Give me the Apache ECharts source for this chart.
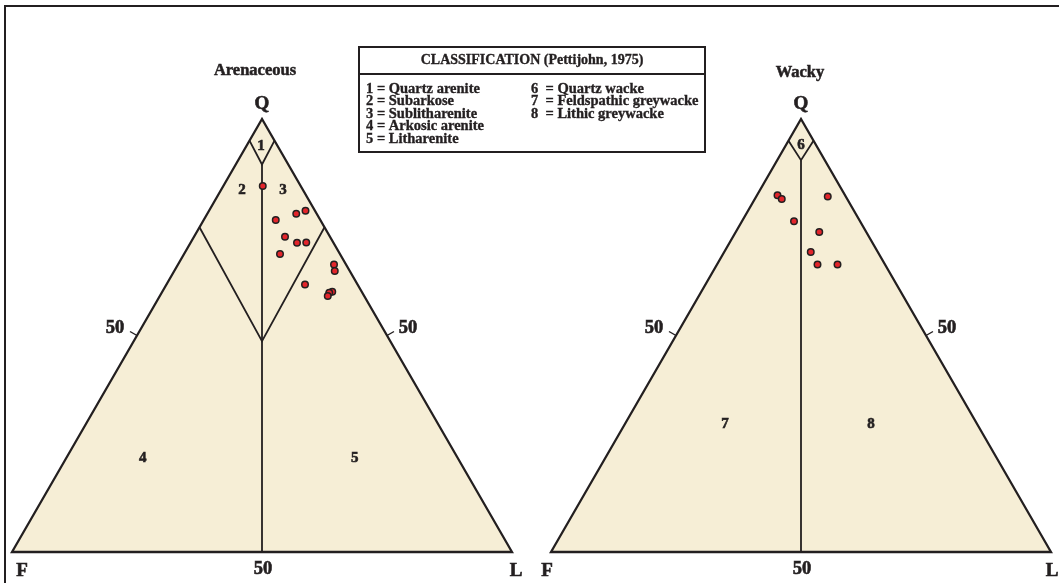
<!DOCTYPE html>
<html><head><meta charset="utf-8">
<script src="https://cdn.jsdelivr.net/npm/echarts@6/dist/echarts.min.js"></script>
<style>html,body{margin:0;padding:0;background:#fff}#c{width:1059px;height:583px}</style>
</head><body><div id="c"></div>
<script>
// ---- data (ternary %: Q, F, L) ----
const arenQ = [84.5,78.8,78.1,76.7,72.8,71.4,71.5,68.8,66.4,64.9,61.8,60.1,59.9,59.1];
const arenF = [7.6,1.9,4.1,8.9,9.0,7.3,5.4,12.0,2.4,3.0,10.5,5.9,6.6,7.3];
const arenL = [7.9,19.3,17.8,14.4,18.2,21.3,23.1,19.2,31.2,32.1,27.7,34.0,33.5,33.6];

const wackyQ = [82.4,81.5,82.1,76.4,73.9,69.3,66.4,66.4];
const wackyF = [13.5,13.1,3.6,13.2,9.4,13.4,13.5,9.5];
const wackyL = [4.1,5.4,14.3,10.4,16.7,17.3,20.1,24.1];

const triangle = [[100,0,0],[0,100,0],[0,0,100],[100,0,0]];
const arenLines = [
  [[95,5,0],[89.5,5.25,5.25],[95,0,5]],
  [[89.5,5.25,5.25],[0,50,50]],
  [[75,25,0],[48.7,25.65,25.65],[75,0,25]]
];
const wackyLines = [
  [[95,5,0],[90.5,4.75,4.75],[95,0,5]],
  [[90.5,4.75,4.75],[0,50,50]]
];

const arenRegionNames = ['1','2','3','4','5'];
const arenRegionPos = [[93.8,3.3,2.9],[83.6,12.2,4.2],[83.6,4.0,12.4],[21.7,63.0,15.3],[21.7,20.6,57.7]];
const wackyRegionNames = ['6','7','8'];
const wackyRegionPos = [[94,3,3],[29.6,50.4,20.0],[29.6,21.2,49.2]];

const edgeTick = 50;
const titles = ['Arenaceous','Wacky'];
const legendTitle = 'CLASSIFICATION (Pettijohn, 1975)';
const legendLeft = ['1 = Quartz arenite','2 = Subarkose','3 = Sublitharenite','4 = Arkosic arenite','5 = Litharenite'];
const legendRight = ['6  = Quartz wacke','7  = Feldspathic greywacke','8  = Lithic greywacke'];

// ---- helpers ----
const H = Math.sqrt(3)/2;
function tern(p){ const s=p[0]+p[1]+p[2]; return [(p[2]+p[0]/2)/s, p[0]/s*H]; }
const INK = '#231f20';
const FILL = '#f6eed6';
const FONT = '"Liberation Serif", "Times New Roman", serif';
function txt(text, size, align, sw){
  return {text:text, font:'bold '+size+'px '+FONT, fill:INK, stroke:INK, lineWidth:(sw==null?0.45:sw),
    textAlign:align||'center', textVerticalAlign:'middle'};
}

function shapeSeries(gi, lines){
  return {
    type:'custom', xAxisIndex:gi, yAxisIndex:gi, clip:false, silent:true, z:1,
    data:[[0,0]],
    renderItem:function(params, api){
      const children = [];
      const tri = triangle.map(p=>api.coord(tern(p)));
      children.push({type:'polygon', shape:{points:tri}, style:{fill:FILL, stroke:INK, lineWidth:2.3, lineJoin:'miter'}});
      lines.forEach(l=>{
        children.push({type:'polyline', shape:{points:l.map(p=>api.coord(tern(p)))}, style:{fill:null, stroke:INK, lineWidth:1.8}});
      });
      const a = api.coord(tern([edgeTick,100-edgeTick,0]));
      const b = api.coord(tern([edgeTick,0,100-edgeTick]));
      children.push({type:'line', shape:{x1:a[0],y1:a[1],x2:a[0]-7,y2:a[1]-4}, style:{stroke:INK, lineWidth:1.4}});
      children.push({type:'line', shape:{x1:b[0],y1:b[1],x2:b[0]+7,y2:b[1]-4}, style:{stroke:INK, lineWidth:1.4}});
      return {type:'group', children:children};
    }
  };
}
function pointSeries(gi, Q, F, L){
  return {
    type:'scatter', xAxisIndex:gi, yAxisIndex:gi, z:5, symbol:'circle', symbolSize:6.5,
    itemStyle:{color:'#e3252b', borderColor:INK, borderWidth:1.5, opacity:1},
    data:Q.map((q,i)=>tern([q,F[i],L[i]]))
  };
}
function labelSeries(gi, items){
  return {
    type:'custom', xAxisIndex:gi, yAxisIndex:gi, z:6, silent:true, clip:false,
    data:items.map(it=>tern(it.p)),
    renderItem:function(params, api){
      const it = items[params.dataIndex];
      const c = api.coord([api.value(0), api.value(1)]);
      const o = it.o || [0,0];
      return {type:'text', x:c[0]+o[0], y:c[1]+o[1], style:txt(it.t, it.s||16, 'center', 0.6)};
    }
  };
}
const tk = String(edgeTick);
const arenLabels = [
  {t:'Q', p:[100,0,0], o:[0,-15], s:19},
  {t:'F', p:[0,100,0], o:[10,19], s:19},
  {t:'L', p:[0,0,100], o:[4,19], s:19},
  {t:tk, p:[0,50,50], o:[1,17], s:18.5},
  {t:tk, p:[50,50,0], o:[-22,-7], s:18.5},
  {t:tk, p:[50,0,50], o:[21,-7], s:18.5}
].concat(arenRegionNames.map((n,i)=>({t:n, p:arenRegionPos[i], s:15})));
const wackyLabels = [
  {t:'Q', p:[100,0,0], o:[0,-15], s:19},
  {t:'F', p:[0,100,0], o:[-4,19], s:19},
  {t:'L', p:[0,0,100], o:[1,19], s:19},
  {t:tk, p:[0,50,50], o:[1,17], s:18.5},
  {t:tk, p:[50,50,0], o:[-22,-7], s:18.5},
  {t:tk, p:[50,0,50], o:[21,-7], s:18.5}
].concat(wackyRegionNames.map((n,i)=>({t:n, p:wackyRegionPos[i], s:15})));

const graphics = [
  {type:'rect', shape:{x:5, y:6, width:1200, height:700}, style:{fill:null, stroke:INK, lineWidth:2}, z:0},
  {type:'text', x:255, y:71, style:txt(titles[0], 16.5, 'center', 0.5)},
  {type:'text', x:800, y:73, style:txt(titles[1], 16.5, 'center', 0.5)},
  {type:'rect', shape:{x:359, y:47, width:346, height:105}, style:{fill:'#fff', stroke:INK, lineWidth:2}},
  {type:'line', shape:{x1:359, y1:74, x2:705, y2:74}, style:{stroke:INK, lineWidth:2}},
  {type:'text', x:532, y:60.5, style:txt(legendTitle, 14, 'center', 0.35)}
];
legendLeft.forEach((t,i)=>graphics.push({type:'text', x:366, y:89+i*12.5, style:txt(t, 14.5, 'left', 0.35)}));
legendRight.forEach((t,i)=>graphics.push({type:'text', x:531, y:89+i*12.5, style:txt(t, 14.5, 'left', 0.35)}));

const chart = echarts.init(document.getElementById('c'), null, {renderer:'canvas'});
chart.setOption({
  animation:false,
  backgroundColor:'#fff',
  grid:[{left:12, top:119, width:500, height:433},{left:551, top:119, width:500, height:433}],
  xAxis:[{gridIndex:0, type:'value', min:0, max:1, show:false},{gridIndex:1, type:'value', min:0, max:1, show:false}],
  yAxis:[{gridIndex:0, type:'value', min:0, max:H, show:false},{gridIndex:1, type:'value', min:0, max:H, show:false}],
  graphic:graphics,
  series:[
    shapeSeries(0, arenLines), shapeSeries(1, wackyLines),
    pointSeries(0, arenQ, arenF, arenL), pointSeries(1, wackyQ, wackyF, wackyL),
    labelSeries(0, arenLabels), labelSeries(1, wackyLabels)
  ]
});
</script></body></html>
